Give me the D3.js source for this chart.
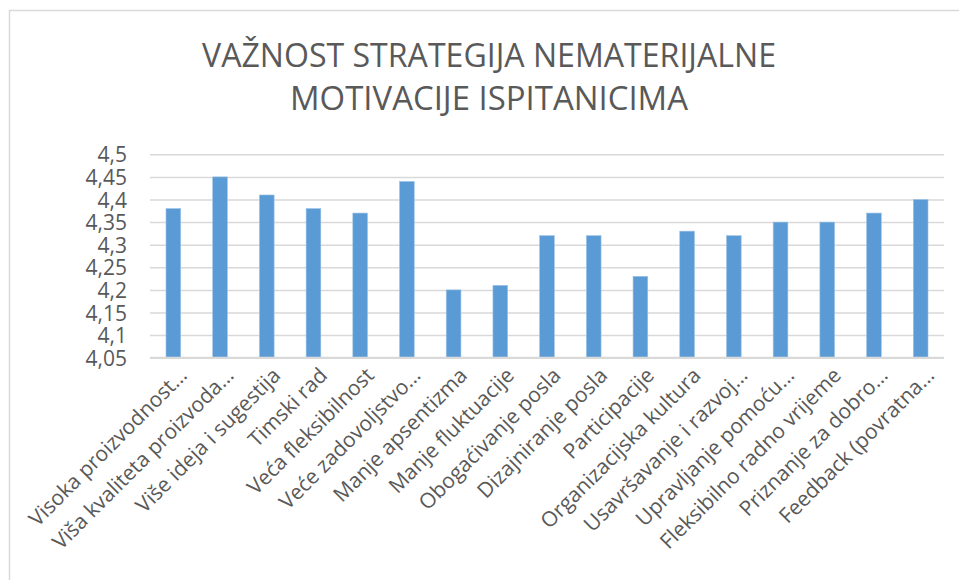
<!DOCTYPE html>
<html>
<head>
<meta charset="utf-8">
<script src="https://cdn.jsdelivr.net/npm/d3@7"></script>
<style>
  body { margin: 0; background: #fff; }
  text { font-family: "Open Sans", sans-serif; fill: #595959; }
</style>
</head>
<body>
<div id="graph"></div>
<script>
// podaci
var kategorije = ["Visoka proizvodnost…", "Viša kvaliteta proizvoda…", "Više ideja i sugestija", "Timski rad",
    "Veća fleksibilnost", "Veće zadovoljstvo…", "Manje apsentizma", "Manje fluktuacije",
    "Obogaćivanje posla", "Dizajniranje posla", "Participacije", "Organizacijska kultura",
    "Usavršavanje i razvoj…", "Upravljanje pomoću…", "Fleksibilno radno vrijeme", "Priznanje za dobro…",
    "Feedback (povratna…"];
var vrijednosti = [4.38, 4.45, 4.41, 4.38, 4.37, 4.44, 4.20, 4.21, 4.32, 4.32, 4.23, 4.33, 4.32, 4.35, 4.35, 4.37, 4.40];
var yTicks = [4.05, 4.1, 4.15, 4.2, 4.25, 4.3, 4.35, 4.4, 4.45, 4.5];
var naslov = ["VAŽNOST STRATEGIJA NEMATERIJALNE", "MOTIVACIJE ISPITANICIMA"];

var W = 959, H = 580;
var plot = { left: 150, right: 944, top: 154.3, bottom: 357.7 };

var svg = d3.select("#graph")
    .append("svg")
    .attr("width", W)
    .attr("height", H);

// okvir grafikona
svg.append("rect")
    .attr("x", 9.5).attr("y", 10.5)
    .attr("width", W).attr("height", H)
    .attr("fill", "#fff")
    .attr("stroke", "#d9d9d9")
    .attr("stroke-width", 1.5);

// naslov
svg.selectAll(".naslov")
    .data(naslov)
    .enter()
    .append("text")
    .attr("class", "naslov")
    .attr("x", 489)
    .attr("y", function(d, i) { return 66.7 + i * 43.3; })
    .attr("text-anchor", "middle")
    .style("font-size", "32px")
    .attr("textLength", function(d, i) { return i == 0 ? 574 : 398; })
    .attr("lengthAdjust", "spacingAndGlyphs")
    .text(function(d) { return d; });

// skale
var x = d3.scaleBand()
    .domain(kategorije)
    .range([plot.left, plot.right])
    .paddingInner(0.685)
    .paddingOuter(0.3425);

var y = d3.scaleLinear()
    .domain([4.05, 4.5])
    .range([plot.bottom, plot.top]);

var fmt = function(d) { return String(d).replace(".", ","); };

// y-os s mrežom
var yAxis = svg.append("g")
    .attr("transform", "translate(" + plot.left + ",0)")
    .call(d3.axisLeft(y)
        .tickValues(yTicks)
        .tickFormat(fmt)
        .tickSize(-(plot.right - plot.left))
        .tickPadding(23));
yAxis.select(".domain").remove();
yAxis.selectAll("line")
    .attr("stroke", "#d9d9d9")
    .attr("stroke-width", 1.5);
yAxis.selectAll("text")
    .style("font-size", "21px")
    .attr("fill", "#595959")
    .attr("dy", "0.36em");

// stupci
svg.selectAll(".stupac")
    .data(vrijednosti)
    .enter()
    .append("rect")
    .attr("class", "stupac")
    .attr("x", function(d, i) { return x(kategorije[i]); })
    .attr("y", function(d) { return y(d); })
    .attr("width", x.bandwidth())
    .attr("height", function(d) { return y(4.05) - y(d); })
    .attr("fill", "#5b9bd5")
    .attr("stroke", "#9dc3e6")
    .attr("stroke-width", 0.6);

// x-os
svg.append("line")
    .attr("x1", plot.left).attr("x2", plot.right)
    .attr("y1", y(4.05)).attr("y2", y(4.05))
    .attr("stroke", "#d9d9d9")
    .attr("stroke-width", 2);

svg.selectAll(".xlabel")
    .data(kategorije)
    .enter()
    .append("text")
    .attr("class", "xlabel")
    .attr("text-anchor", "end")
    .style("font-size", "21px")
    .attr("transform", function(d) {
        var cx = x(d) + x.bandwidth() / 2;
        return "translate(" + (cx + 15) + "," + (plot.bottom + 19) + ") rotate(-45)";
    })
    .text(function(d) { return d; });
</script>
</body>
</html>
